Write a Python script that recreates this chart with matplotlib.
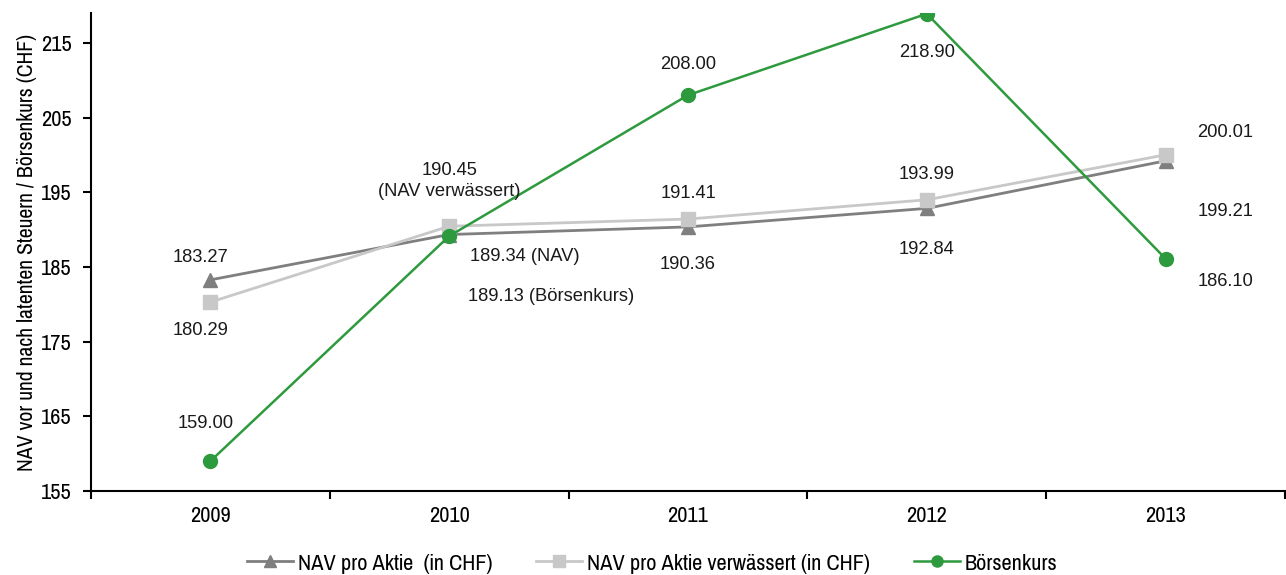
import matplotlib
matplotlib.use("Agg")
import matplotlib.pyplot as plt
from matplotlib import font_manager

years = ["2009", "2010", "2011", "2012", "2013"]
nav = [183.27, 189.34, 190.36, 192.84, 199.21]
nav_diluted = [180.29, 190.45, 191.41, 193.99, 200.01]
share_price = [159.00, 189.13, 208.00, 218.90, 186.10]

names = {f.name for f in font_manager.fontManager.ttflist}
narrow = next((n for n in ["Pragati Narrow", "Archivo Narrow", "PT Sans Narrow",
                           "Roboto Condensed", "IBM Plex Sans Condensed"] if n in names),
              "DejaVu Sans")
regular = "Liberation Sans"

c_nav = "#7f7f7f"
c_dil = "#c8c8c8"
c_price = "#2e9a3e"

fig = plt.figure(figsize=(12.86, 5.75), dpi=100)
ax = fig.add_axes([91 / 1286, 1 - 491 / 575, (1285 - 91) / 1286, (491 - 13) / 575])

x = list(range(len(years)))
ax.plot(x, nav, color=c_nav, lw=2.0, marker="^", ms=10, label="NAV pro Aktie  (in CHF)", zorder=3)
ax.plot(x, nav_diluted, color=c_dil, lw=2.0, marker="s", ms=10, label="NAV pro Aktie verwässert (in CHF)", zorder=4)
ax.plot(x, share_price, color=c_price, lw=1.8, marker="o", ms=10, label="Börsenkurs", zorder=5)

ax.set_xlim(-0.5, 4.5)
ax.set_ylim(155, 219)
ax.set_yticks([155, 165, 175, 185, 195, 205, 215])
ax.set_xticks([i - 0.5 for i in range(6)])
ax.set_xticklabels([])
ax.set_xticks(x, minor=True)
ax.set_xticklabels(years, minor=True)
ax.tick_params(axis="x", which="minor", length=0, pad=11)
ax.tick_params(axis="x", which="major", length=6, width=1.5, direction="out")
ax.tick_params(axis="y", length=6, width=1.5, direction="out", pad=8)
for lbl in ax.get_xticklabels(minor=True) + ax.get_yticklabels():
    lbl.set_fontfamily(narrow)
    lbl.set_fontsize(17.5)

for s in ["top", "right"]:
    ax.spines[s].set_visible(False)
for s in ["left", "bottom"]:
    ax.spines[s].set_linewidth(1.5)

ax.set_ylabel("NAV vor und nach latenten Steuern / Börsenkurs (CHF)",
              fontfamily=narrow, fontsize=17, labelpad=3)

def label(xi, yi, text, dx, dy, ha="center"):
    ax.annotate(text, (xi, yi), xytext=(dx, dy), textcoords="offset pixels",
                ha=ha, va="center", fontsize=13.2, fontfamily=regular,
                color="#1a1a1a", zorder=6, linespacing=1.3)

# 2009
label(0, nav[0], f"{nav[0]:.2f}", -10, 22)
label(0, nav_diluted[0], f"{nav_diluted[0]:.2f}", -10, -28)
label(0, share_price[0], f"{share_price[0]:.2f}", -5, 38)
# 2010
label(1, nav_diluted[1], f"{nav_diluted[1]:.2f}\n(NAV verwässert)", 0, 45)
label(1, nav[1], f"{nav[1]:.2f} (NAV)", 21, -22, ha="left")
label(1, share_price[1], f"{share_price[1]:.2f} (Börsenkurs)", 19, -60, ha="left")
# 2011
label(2, share_price[2], f"{share_price[2]:.2f}", 0, 31)
label(2, nav_diluted[2], f"{nav_diluted[2]:.2f}", 0, 26)
label(2, nav[2], f"{nav[2]:.2f}", 0, -38)
# 2012
label(3, share_price[3], f"{share_price[3]:.2f}", 0, -39)
label(3, nav_diluted[3], f"{nav_diluted[3]:.2f}", 0, 25)
label(3, nav[3], f"{nav[3]:.2f}", 0, -41)
# 2013
label(4, nav_diluted[4], f"{nav_diluted[4]:.2f}", 60, 22)
label(4, nav[4], f"{nav[4]:.2f}", 60, -51)
label(4, share_price[4], f"{share_price[4]:.2f}", 60, -23)

leg = fig.legend(loc="center", bbox_to_anchor=(0.507, 1 - 563 / 575), ncol=3,
                 frameon=False, prop={"family": narrow, "size": 17.5},
                 handlelength=1.9, handletextpad=0.2, columnspacing=1.8,
                 markerscale=0.8)

fig.savefig("out.png", dpi=100)
